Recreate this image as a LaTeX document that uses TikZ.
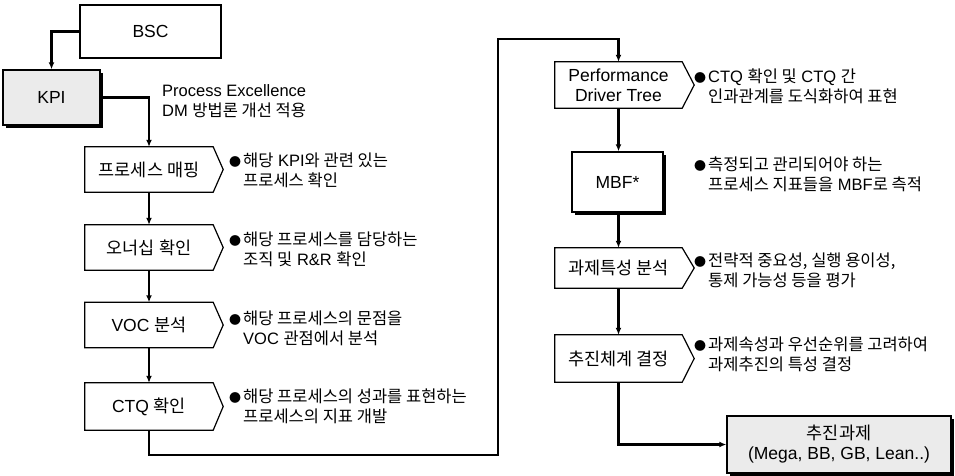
\documentclass[tikz,border=0pt]{standalone}
\usepackage{fontspec}
\setmainfont{Liberation Sans}
\newfontfamily\krfont{Noto Sans CJK KR}
\newcommand{\kr}[1]{{\krfont #1}}
\newcommand{\bul}{{\fontsize{12}{12}\selectfont\krfont ●}\hspace{2pt}}
\usetikzlibrary{arrows.meta,shadows}

% outline of a step box: rectangle body with a pointed right side
\newcommand{\stepoutline}[2]{%
  \draw[line width=1.2pt, line join=miter] (#1.north west) -- (#1.north east)
    -- ([xshift=#2pt]#1.east) -- (#1.south east) -- (#1.south west) -- cycle;}

\tikzset{
  lbl/.style={inner sep=0pt, align=center, font=\fontsize{17.5}{20}\selectfont},
  plainbox/.style={lbl, draw, line width=1.2pt},
  shadowbox/.style={lbl, draw, line width=1.4pt,
    drop shadow={shadow xshift=3pt, shadow yshift=-3pt, fill=black, opacity=1}},
  leftbody/.style={lbl, minimum width=128pt, minimum height=45pt},
  rightbody/.style={lbl, minimum width=127pt, minimum height=46pt},
  desc/.style={anchor=west, align=left, inner sep=0pt, font=\fontsize{16.5}{20}\selectfont},
  conn/.style={line width=2.5pt, line join=miter, -{Latex[length=7pt,width=6pt]}},
}

\begin{document}
\begin{tikzpicture}[x=1pt, y=-1pt]
\useasboundingbox (0,0) rectangle (955,475);

% top: BSC and KPI
\node[plainbox, minimum width=141pt, minimum height=53pt] (bsc) at (150.5,31.5) {BSC};
\node[shadowbox, fill=gray!16, minimum width=97pt, minimum height=55pt] (kpi) at (51.5,97.5) {KPI};
\node[desc] (pe) at (162,101) {Process Excellence\\DM \kr{방법론 개선 적용}};

% left column of steps
\node[leftbody] (map) at (149,169.5) {\kr{프로세스 매핑}};
\node[leftbody] (own) at (149,247.5) {\kr{오너십 확인}};
\node[leftbody] (voc) at (149,325) {VOC \kr{분석}};
\node[leftbody, minimum height=47pt] (ctq) at (149,406.5) {CTQ \kr{확인}};
\stepoutline{map}{10}
\stepoutline{own}{10}
\stepoutline{voc}{10}
\stepoutline{ctq}{10}

\node[desc] (mapd) at (229,170.5) {\bul\kr{해당} KPI\kr{와 관련 있는}\\\hphantom{\bul}\kr{프로세스 확인}};
\node[desc] (ownd) at (229,249.5) {\bul\kr{해당 프로세스를 담당하는}\\\hphantom{\bul}\kr{조직 및} R\&R \kr{확인}};
\node[desc] (vocd) at (229,328) {\bul\kr{해당 프로세스의 문점을}\\\hphantom{\bul}VOC \kr{관점에서 분석}};
\node[desc] (ctqd) at (229,406.5) {\bul\kr{해당 프로세스의 성과를 표현하는}\\\hphantom{\bul}\kr{프로세스의 지표 개발}};

% right column of steps
\node[rightbody] (pdt) at (618.5,85) {Performance\\Driver Tree};
\node[shadowbox, fill=white, minimum width=91pt, minimum height=60pt] (mbf) at (617.5,182) {MBF*};
\node[rightbody, minimum height=40pt] (feat) at (618.5,268) {\kr{과제특성 분석}};
\node[rightbody, minimum height=47pt] (exec) at (618.5,358.5) {\kr{추진체계 결정}};
\stepoutline{pdt}{12}
\stepoutline{feat}{12}
\stepoutline{exec}{12}

\node[desc] (pdtd) at (694,86.5) {\bul CTQ \kr{확인 및} CTQ \kr{간}\\\hphantom{\bul}\kr{인과관계를 도식화하여 표현}};
\node[desc] (mbfd) at (694,174) {\bul\kr{측정되고 관리되어야 하는}\\\hphantom{\bul}\kr{프로세스 지표들을} MBF\kr{로 측적}};
\node[desc] (featd) at (694,270.5) {\bul\kr{전략적 중요성, 실행 용이성,}\\\hphantom{\bul}\kr{통제 가능성 등을 평가}};
\node[desc] (execd) at (694,354) {\bul\kr{과제속성과 우선순위를 고려하여}\\\hphantom{\bul}\kr{과제추진의 특성 결정}};

% result
\node[shadowbox, fill=gray!16, minimum width=224pt, minimum height=57pt] (task) at (839,444.5) {\kr{추진과제}\\(Mega, BB, GB, Lean..)};

% connectors
\coordinate (loopa) at (498,455);
\coordinate (loopb) at (498,39);
\draw[conn] (bsc.west) -| (kpi.north);
\draw[conn] (kpi.east) -| (map.north);
\draw[conn] (map.south) -- (own.north);
\draw[conn] (own.south) -- (voc.north);
\draw[conn] (voc.south) -- (ctq.north);
\draw[conn] (ctq.south) |- (loopa) -- (loopb) -| (pdt.north);
\draw[conn] (pdt.south) -- (pdt.south |- mbf.north);
\draw[conn] (mbf.south -| feat.north) -- (feat.north);
\draw[conn] (feat.south) -- (exec.north);
\draw[conn] (exec.south) |- (task.west);
\end{tikzpicture}
\end{document}
